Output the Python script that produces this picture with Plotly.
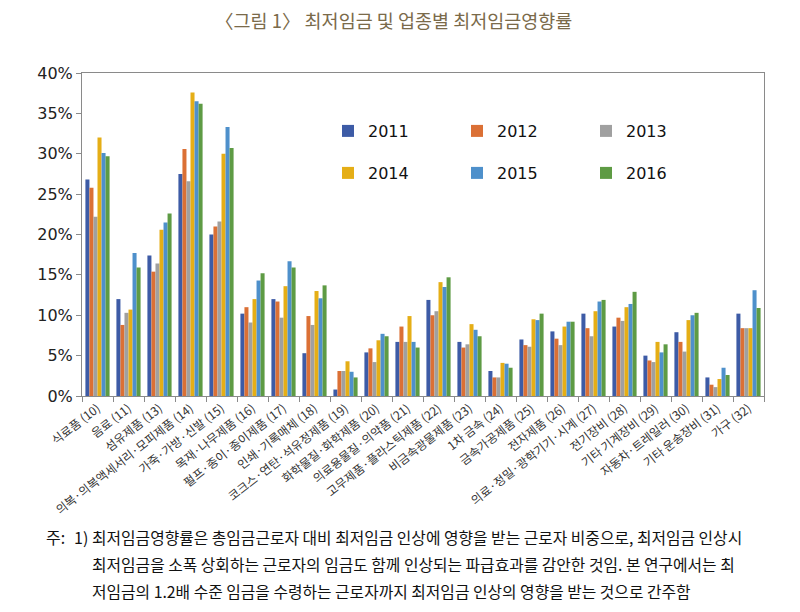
import plotly.graph_objects as go

categories = [
    "식료품 (10)", "음료 (11)", "섬유제품 (13)", "의복·의복액세서리·모피제품 (14)",
    "가죽·가방·신발 (15)", "목재·나무제품 (16)", "펄프·종이·종이제품 (17)",
    "인쇄·기록매체 (18)", "코크스·연탄·석유정제품 (19)", "화학물질·화학제품 (20)",
    "의료용물질·의약품 (21)", "고무제품·플라스틱제품 (22)", "비금속광물제품 (23)",
    "1차 금속 (24)", "금속가공제품 (25)", "전자제품 (26)", "의료·정밀·광학기기·시계 (27)",
    "전기장비 (28)", "기타 기계장비 (29)", "자동차·트레일러 (30)", "기타 운송장비 (31)",
    "가구 (32)",
]

v2011 = [26.8, 12.0, 17.4, 27.5, 20.0, 10.2, 12.0, 5.3, 0.8, 5.4, 6.7, 11.9, 6.7, 3.1, 7.0, 8.0, 10.2, 8.6, 5.0, 7.9, 2.3, 10.2]
v2012 = [25.8, 8.8, 15.4, 30.6, 21.0, 11.0, 11.7, 9.9, 3.1, 5.9, 8.6, 10.0, 6.0, 2.3, 6.3, 7.1, 8.4, 9.7, 4.4, 6.7, 1.4, 8.4]
v2013 = [22.2, 10.3, 16.4, 26.6, 21.6, 9.1, 9.7, 8.8, 3.1, 4.2, 6.7, 10.5, 6.4, 2.3, 6.1, 6.3, 7.4, 9.3, 4.2, 5.5, 1.1, 8.4]
v2014 = [32.0, 10.7, 20.6, 37.6, 30.0, 12.0, 13.6, 13.0, 4.3, 6.9, 9.9, 14.1, 8.9, 4.1, 9.5, 8.6, 10.5, 11.0, 6.7, 9.4, 2.1, 8.4]
v2015 = [30.1, 17.7, 21.5, 36.5, 33.3, 14.3, 16.7, 12.1, 3.0, 7.7, 6.7, 13.5, 8.2, 4.0, 9.4, 9.2, 11.7, 11.4, 5.4, 10.0, 3.5, 13.1]
v2016 = [29.7, 15.9, 22.6, 36.2, 30.7, 15.2, 15.9, 13.7, 2.3, 7.4, 6.0, 14.7, 7.4, 3.5, 10.2, 9.2, 11.9, 12.9, 6.4, 10.3, 2.6, 10.9]

years = ["2011", "2012", "2013", "2014", "2015", "2016"]
series = [v2011, v2012, v2013, v2014, v2015, v2016]
colors = ["#3D5BA6", "#DB7035", "#A0A0A0", "#E5AE16", "#4E90CB", "#5E9B44"]
legend_ids = ["legend", "legend", "legend", "legend2", "legend2", "legend2"]

title_text = "〈그림 1〉 최저임금 및 업종별 최저임금영향률"
note_lines = [
    "최저임금영향률은 총임금근로자 대비 최저임금 인상에 영향을 받는 근로자 비중으로, 최저임금 인상시",
    "최저임금을 소폭 상회하는 근로자의 임금도 함께 인상되는 파급효과를 감안한 것임. 본 연구에서는 최",
    "저임금의 1.2배 수준 임금을 수령하는 근로자까지 최저임금 인상의 영향을 받는 것으로 간주함",
]

# page body has an 8px margin: screen coords = div coords + 8
OFF = 8
W, H = 800, 612
PL, PR, PT, PB = 82, 764, 73, 396          # plot area in screen pixels
ML, MT = PL - OFF, PT - OFF
MR, MB = W - (PR - OFF), H - (PB - OFF)
PW, PH = PR - PL, PB - PT


def px_x(p):
    return (p - PL) / PW


def px_y(p):
    return (PB - p) / PH


KFONT = "Noto Sans CJK KR"

fig = go.Figure()
for name, vals, col, lg in zip(years, series, colors, legend_ids):
    fig.add_trace(go.Bar(
        x=categories, y=vals, name=name, marker=dict(color=col, line=dict(width=0)),
        legend=lg,
    ))

legend_common = dict(orientation="h", xanchor="left", yanchor="middle",
                     entrywidth=84, entrywidthmode="pixels",
                     font=dict(size=16, family="DejaVu Sans", color="#111"),
                     bgcolor="rgba(0,0,0,0)", itemclick=False, itemdoubleclick=False)

fig.update_layout(
    width=W, height=H,
    margin=dict(l=ML, r=MR, t=MT, b=MB, autoexpand=False),
    paper_bgcolor="white", plot_bgcolor="white",
    barmode="group", bargap=0.22, bargroupgap=0,
    font=dict(family="DejaVu Sans", color="#222"),
    legend=dict(x=px_x(328), y=px_y(131), **legend_common),
    legend2=dict(x=px_x(328), y=px_y(173), **legend_common),
    xaxis=dict(
        type="category", tickangle=-38, tickfont=dict(family=KFONT, size=12, color="#333"),
        showline=True, linecolor="#8a8a8a", linewidth=1, mirror=True,
        ticks="outside", tickson="boundaries", ticklen=5, tickcolor="#8a8a8a",
        showgrid=False,
    ),
    yaxis=dict(
        range=[0, 40], dtick=5, ticksuffix="%", tickfont=dict(size=16, color="#222"),
        showline=True, linecolor="#8a8a8a", linewidth=1, mirror=True,
        ticks="outside", ticklen=5, tickcolor="#8a8a8a", showgrid=False, zeroline=False,
    ),
)

annotations = [
    dict(text=title_text, xref="paper", yref="paper", x=px_x(393), y=px_y(20),
         xanchor="center", yanchor="middle", showarrow=False,
         font=dict(family=KFONT, size=18.5, color="#7A6A4A")),
    dict(text="주:", xref="paper", yref="paper", x=px_x(44), y=px_y(537),
         xanchor="left", yanchor="middle", showarrow=False,
         font=dict(family=KFONT, size=16, color="#111")),
    dict(text="1)", xref="paper", yref="paper", x=px_x(72), y=px_y(537),
         xanchor="left", yanchor="middle", showarrow=False,
         font=dict(family=KFONT, size=16, color="#111")),
]
for i, line in enumerate(note_lines):
    annotations.append(dict(
        text=line, xref="paper", yref="paper", x=px_x(90), y=px_y(537 + 27 * i),
        xanchor="left", yanchor="middle", showarrow=False,
        font=dict(family=KFONT, size=15.8, color="#111"),
    ))
fig.update_layout(annotations=annotations)

fig.write_html("out.html")
